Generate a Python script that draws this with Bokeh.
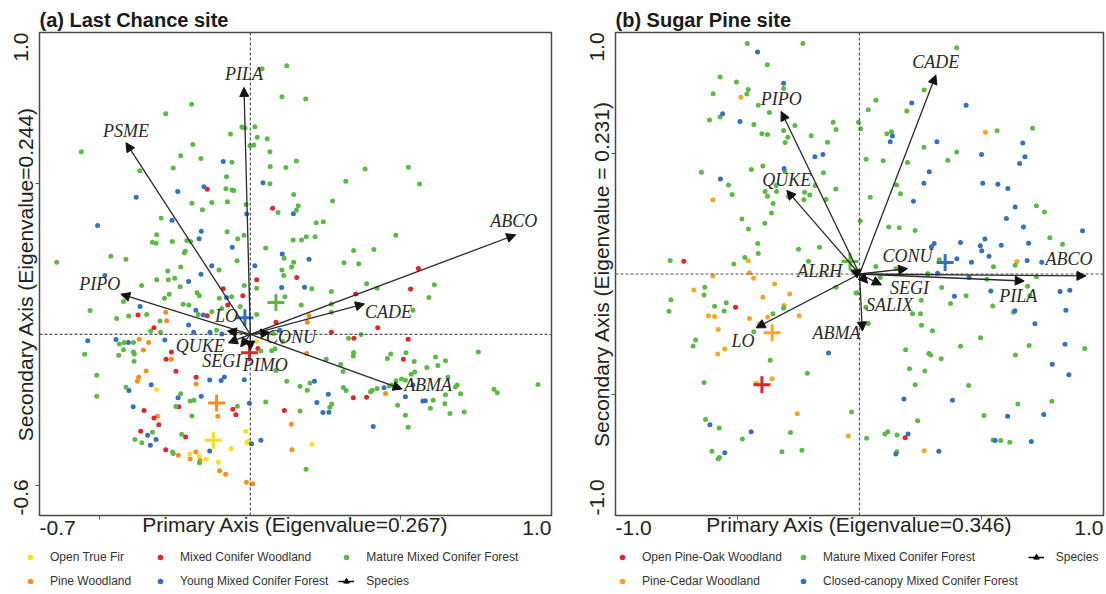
from bokeh.plotting import figure
from bokeh.models import (ColumnDataSource, Range1d, FixedTicker, Span, Arrow, NormalHead,
                          LabelSet, Legend, LegendItem)
from bokeh.layouts import row, column
from bokeh.core.properties import value
from bokeh.embed import file_html
from bokeh.resources import INLINE

# ------------------------------------------------------------------
# (a) Last Chance site : plot scores (Primary, Secondary)
# ------------------------------------------------------------------
LC_OPEN_TRUE_FIR = [(0.021, -0.024), (-0.311, -0.183), (-0.015, -0.321), (-0.006, -0.354), (-0.012, -0.359),
                    (-0.064, -0.379), (-0.201, -0.396), (-0.170, -0.404), (-0.146, -0.414), (-0.106, -0.424),
                    (0.205, -0.364)]
LC_PINE_WOODLAND = [(-0.281, 0.073), (-0.278, 0.045), (-0.369, -0.016), (-0.338, -0.027), (-0.355, -0.052),
                    (-0.263, -0.082), (-0.346, -0.121), (-0.371, -0.142), (-0.375, -0.155), (-0.180, -0.164),
                    (-0.108, -0.271), (-0.308, -0.271), (-0.239, -0.400), (-0.181, -0.390), (-0.200, -0.413),
                    (-0.167, -0.418), (-0.102, -0.452), (-0.082, -0.463), (-0.013, -0.490), (0.008, -0.495),
                    (0.195, 0.062), (0.189, 0.040), (0.187, -0.063), (0.449, -0.196), (0.136, -0.298),
                    (0.138, -0.382)]
LC_MIXED_CONIFER_WOODLAND = [(-0.143, 0.481), (0.074, 0.418), (0.558, 0.218), (-0.373, 0.064), (-0.320, 0.022),
                             (-0.143, 0.062), (-0.090, 0.151), (-0.075, 0.097), (-0.025, 0.128), (0.021, 0.181),
                             (0.085, 0.040), (0.025, -0.047), (-0.262, -0.058), (-0.280, -0.082), (-0.247, -0.122),
                             (-0.180, -0.142), (-0.058, -0.248), (-0.048, -0.266), (0.113, -0.252), (-0.353, -0.252),
                             (-0.238, -0.240), (-0.320, -0.277), (-0.304, -0.299), (-0.364, -0.321), (-0.215, -0.340),
                             (-0.281, -0.382), (0.154, 0.188), (0.532, 0.150), (0.350, 0.134), (0.423, 0.022),
                             (0.269, 0.007), (0.344, -0.013), (0.524, -0.016), (0.508, -0.082), (0.342, -0.210),
                             (0.386, -0.208)]
LC_YOUNG_MIXED = [(-0.090, 0.573), (0.042, 0.502), (-0.154, 0.489), (-0.241, 0.473), (-0.379, 0.454),
                  (-0.012, 0.399), (-0.260, 0.378), (-0.507, 0.361), (-0.163, 0.342), (-0.170, 0.317),
                  (-0.060, 0.289), (0.106, 0.266), (-0.128, 0.227), (0.015, 0.227), (0.143, 0.400),
                  (0.195, 0.249), (-0.483, 0.195), (-0.205, 0.175), (-0.164, 0.199), (-0.366, 0.092),
                  (-0.205, 0.031), (-0.188, 0.007), (-0.181, 0.080), (-0.156, 0.064), (-0.079, 0.122),
                  (0.104, 0.155), (0.098, 0.014), (-0.094, 0.001), (-0.134, 0.007), (-0.540, -0.021),
                  (-0.446, -0.017), (-0.405, -0.027), (-0.284, -0.019), (-0.135, -0.151), (-0.097, -0.153),
                  (-0.086, -0.141), (-0.020, -0.150), (-0.329, -0.167), (-0.403, -0.186), (-0.240, -0.210),
                  (-0.163, -0.205), (-0.003, -0.228), (-0.389, -0.240), (-0.341, -0.334), (-0.313, -0.348),
                  (-0.332, -0.367), (0.004, -0.362), (0.035, -0.351), (-0.135, -0.386), (0.180, 0.156),
                  (0.540, -0.168), (0.444, -0.177), (0.213, -0.155), (0.515, -0.207), (0.259, -0.198),
                  (0.221, -0.226), (0.241, -0.259), (0.261, -0.258), (0.573, -0.221), (0.581, -0.220),
                  (0.408, -0.305)]
LC_MATURE_MIXED = [(0.121, 0.890), (0.039, 0.880), (0.105, 0.787), (-0.195, 0.762), (-0.281, 0.731),
                   (-0.028, 0.687), (-0.018, 0.684), (0.015, 0.688), (-0.066, 0.664), (0.023, 0.653),
                   (0.056, 0.648), (-0.191, 0.629), (0.012, 0.627), (-0.001, 0.625), (-0.561, 0.605),
                   (-0.231, 0.592), (-0.164, 0.583), (0.065, 0.605), (-0.061, 0.570), (0.066, 0.556),
                   (0.118, 0.553), (-0.256, 0.551), (-0.367, 0.542), (-0.079, 0.522), (0.065, 0.499),
                   (-0.081, 0.482), (-0.061, 0.478), (-0.055, 0.477), (-0.194, 0.434), (-0.128, 0.437),
                   (-0.076, 0.439), (-0.014, 0.430), (0.092, 0.404), (-0.159, 0.413), (-0.296, 0.385),
                   (-0.311, 0.330), (-0.077, 0.340), (-0.042, 0.317), (-0.021, 0.328), (-0.325, 0.305),
                   (-0.313, 0.302), (-0.259, 0.308), (-0.211, 0.311), (-0.198, 0.308), (-0.216, 0.275),
                   (-0.219, 0.270), (0.051, 0.286), (-0.463, 0.259), (-0.413, 0.249), (0.112, 0.252),
                   (-0.643, 0.239), (-0.044, 0.244), (-0.231, 0.223), (-0.104, 0.213), (-0.274, 0.210),
                   (0.105, 0.213),
                   (0.184, 0.780), (0.153, 0.574), (0.381, 0.548), (0.525, 0.554), (0.317, 0.507),
                   (0.562, 0.498), (0.144, 0.463), (0.273, 0.442), (0.159, 0.426), (0.153, 0.411),
                   (0.219, 0.370), (0.242, 0.373), (0.142, 0.313), (0.170, 0.313), (0.186, 0.323),
                   (0.215, 0.323), (0.483, 0.328), (0.343, 0.278), (0.410, 0.281), (0.144, 0.239),
                   (0.311, 0.237), (0.360, 0.234), (0.137, 0.223),
                   (-0.361, 0.162), (-0.311, 0.181), (-0.272, 0.181), (-0.251, 0.186), (-0.233, 0.158),
                   (-0.269, 0.133), (-0.285, 0.120), (-0.421, 0.109), (-0.532, 0.079), (-0.444, 0.053),
                   (-0.404, 0.061), (-0.344, 0.066), (-0.300, 0.044), (-0.331, 0.011), (-0.298, 0.007),
                   (-0.177, 0.138), (-0.169, 0.128), (-0.223, 0.100), (-0.204, 0.097), (-0.173, 0.066),
                   (-0.128, 0.075), (-0.103, 0.120), (-0.062, 0.125), (-0.020, 0.162), (0.021, 0.153),
                   (0.115, 0.125), (0.111, 0.195), (-0.095, 0.086), (-0.034, 0.092), (0.021, 0.066),
                   (0.076, 0.003), (-0.061, 0.009), (-0.112, 0.014), (-0.435, -0.032), (-0.419, -0.027),
                   (-0.388, -0.027), (-0.550, -0.066), (-0.421, -0.051), (-0.437, -0.069), (-0.388, -0.058),
                   (-0.385, -0.065), (-0.386, -0.089), (0.035, -0.055), (0.071, -0.054), (0.082, -0.048),
                   (0.107, -0.024), (-0.510, -0.135), (0.085, -0.120), (0.121, -0.155), (-0.413, -0.175),
                   (-0.510, -0.205), (-0.231, -0.197), (-0.200, -0.221), (-0.187, -0.218), (-0.043, -0.238),
                   (0.051, -0.224), (-0.247, -0.239), (-0.194, -0.270), (-0.325, -0.324), (-0.383, -0.348),
                   (-0.360, -0.359), (-0.228, -0.331), (-0.258, -0.390), (-0.256, -0.395), (-0.169, -0.425),
                   (0.204, 0.151), (0.269, 0.142), (0.386, 0.168), (0.421, 0.153), (0.611, 0.164),
                   (0.593, 0.122), (0.269, 0.101), (0.269, 0.073), (0.169, 0.097), (0.540, 0.080),
                   (0.368, 0.000), (0.326, -0.013), (0.757, -0.058), (0.343, -0.060), (0.342, -0.072),
                   (0.466, -0.065), (0.455, -0.080), (0.517, -0.061), (0.252, -0.082), (0.300, -0.100),
                   (0.308, -0.123), (0.544, -0.090), (0.615, -0.075), (0.648, -0.087), (0.623, -0.103),
                   (0.586, -0.110), (0.546, -0.125), (0.534, -0.132), (0.656, -0.142), (0.484, -0.154),
                   (0.502, -0.148), (0.515, -0.152), (0.469, -0.168), (0.461, -0.171), (0.421, -0.179),
                   (0.405, -0.185), (0.399, -0.190), (0.687, -0.168), (0.681, -0.174), (0.809, -0.182),
                   (0.820, -0.193), (0.955, -0.166), (0.198, -0.161), (0.165, -0.172), (0.189, -0.185),
                   (0.309, -0.176), (0.318, -0.186), (0.648, -0.200), (0.698, -0.197), (0.270, -0.231),
                   (0.264, -0.241), (0.165, -0.254), (0.489, -0.235), (0.607, -0.218), (0.646, -0.230),
                   (0.598, -0.245), (0.663, -0.262), (0.710, -0.257), (0.515, -0.268), (0.524, -0.308),
                   (0.185, -0.447)]

LC_GROUPS = ["Open True Fir", "Pine Woodland", "Mixed Conifer Woodland",
             "Young Mixed Conifer Forest", "Mature Mixed Conifer Forest"]
LC_POINTS = [LC_OPEN_TRUE_FIR, LC_PINE_WOODLAND, LC_MIXED_CONIFER_WOODLAND, LC_YOUNG_MIXED, LC_MATURE_MIXED]
LC_CENTROID_X = [-0.123, -0.112, -0.003, -0.018, 0.085]
LC_CENTROID_Y = [-0.351, -0.227, -0.061, 0.055, 0.106]

LC_SPECIES = ["ABCO", "PILA", "PSME", "PIPO", "CADE", "ABMA", "LO", "QUKE", "SEGI", "PIMO", "CONU"]
LC_SPECIES_X = [0.881, -0.021, -0.413, -0.430, 0.379, 0.504, -0.076, -0.073, -0.032, 0.000, 0.065]
LC_SPECIES_Y = [0.330, 0.818, 0.635, 0.133, 0.101, -0.181, 0.011, -0.028, -0.041, -0.052, 0.006]

# ------------------------------------------------------------------
# (b) Sugar Pine site
# ------------------------------------------------------------------
SP_OPEN_PINE_OAK = [(-0.720, 0.053), (-0.508, -0.138), (0.187, -0.678)]
SP_PINE_CEDAR = [(-0.486, 0.732), (-0.601, 0.307), (-0.456, 0.055), (0.516, 0.587), (0.646, 0.052),
                 (-0.601, -0.008), (-0.451, 0.005), (-0.434, -0.018), (-0.679, -0.066), (-0.348, -0.041),
                 (-0.396, -0.096), (-0.286, -0.083), (-0.309, -0.130), (-0.619, -0.173), (-0.594, -0.176),
                 (-0.376, -0.179), (-0.451, -0.184), (-0.247, -0.173), (-0.410, -0.206), (-0.579, -0.230),
                 (-0.552, -0.311), (-0.581, -0.331), (-0.358, -0.434), (-0.423, -0.452), (-0.255, -0.579),
                 (-0.046, -0.671), (0.265, -0.732)]
SP_MATURE_MIXED = [(-0.460, 0.954), (-0.232, 0.954), (-0.378, 0.866), (-0.571, 0.816), (-0.504, 0.795),
                   (-0.311, 0.768), (-0.600, 0.746), (-0.456, 0.764), (-0.462, 0.745), (-0.415, 0.699),
                   (-0.571, 0.650), (-0.615, 0.638), (-0.369, 0.669), (-0.433, 0.619), (-0.265, 0.615),
                   (-0.311, 0.594), (-0.400, 0.581), (-0.377, 0.578), (-0.294, 0.566), (-0.305, 0.544),
                   (-0.198, 0.572), (-0.108, 0.628), (-0.096, 0.598), (-0.131, 0.546), (-0.396, 0.447),
                   (-0.443, 0.433), (-0.306, 0.423), (-0.648, 0.421), (-0.148, 0.419), (-0.537, 0.369),
                   (-0.522, 0.329), (-0.342, 0.366), (-0.387, 0.342), (-0.340, 0.342), (-0.377, 0.322),
                   (-0.225, 0.339), (-0.204, 0.327), (-0.228, 0.307), (-0.182, 0.366), (-0.097, 0.352),
                   (-0.137, 0.309), (-0.354, 0.292), (-0.291, 0.321), (-0.361, 0.253), (-0.482, 0.228),
                   (-0.388, 0.210), (-0.455, 0.186), (-0.417, 0.126), (-0.415, 0.085), (-0.470, 0.068),
                   (-0.164, 0.111), (-0.250, 0.102), (-0.776, 0.056), (-0.515, 0.041), (-0.209, 0.053),
                   (0.398, 0.937), (0.265, 0.762), (0.067, 0.719), (0.036, 0.680), (0.194, 0.675),
                   (-0.004, 0.628), (0.005, 0.601), (0.564, 0.593), (0.709, 0.604), (0.131, 0.589),
                   (0.112, 0.581), (0.264, 0.525), (0.398, 0.505), (0.027, 0.475), (0.097, 0.469),
                   (0.197, 0.462), (0.362, 0.471), (0.152, 0.369), (0.168, 0.332), (0.044, 0.318),
                   (0.725, 0.283), (0.758, 0.257), (0.003, 0.219), (0.120, 0.195), (0.163, 0.191),
                   (0.228, 0.180), (0.780, 0.150), (0.832, 0.123), (0.638, 0.036), (0.549, 0.030),
                   (0.327, 0.059), (0.067, 0.031), (0.149, 0.022), (0.280, 0.001),
                   (-0.634, -0.055), (-0.637, -0.087), (-0.773, -0.107), (-0.781, -0.154), (-0.594, -0.134),
                   (-0.546, -0.119), (-0.555, -0.153), (-0.311, -0.141), (-0.355, -0.165), (-0.433, -0.239),
                   (-0.672, -0.273), (-0.682, -0.298), (-0.366, -0.357), (-0.096, -0.055), (-0.014, -0.079),
                   (-0.214, -0.411), (-0.637, -0.449), (-0.033, -0.571), (-0.631, -0.602), (-0.575, -0.638),
                   (-0.480, -0.683), (-0.283, -0.656), (-0.605, -0.734), (-0.574, -0.760), (-0.579, -0.765),
                   (-0.318, -0.736), (-0.236, -0.730),
                   (0.085, -0.015), (0.279, 0.000), (0.522, -0.022), (0.725, -0.011), (0.689, -0.051),
                   (0.337, -0.056), (-0.010, -0.079), (0.437, -0.090), (0.698, -0.090), (0.253, -0.109),
                   (0.373, -0.122), (0.546, -0.133), (0.026, -0.138), (0.631, -0.158), (0.217, -0.165),
                   (0.250, -0.165), (0.036, -0.205), (0.254, -0.212), (0.299, -0.235), (0.496, -0.264),
                   (0.414, -0.299), (0.695, -0.296), (0.923, -0.309), (0.189, -0.314), (0.284, -0.329),
                   (0.292, -0.335), (0.639, -0.335), (0.335, -0.351), (0.205, -0.392), (0.268, -0.402),
                   (0.228, -0.459), (0.447, -0.462), (0.649, -0.538), (0.788, -0.527), (0.510, -0.586),
                   (0.238, -0.608), (0.029, -0.680), (0.104, -0.663), (0.116, -0.653), (0.154, -0.667),
                   (0.548, -0.687), (0.579, -0.689), (0.616, -0.697), (0.153, -0.736)]
SP_CLOSED_CANOPY = [(-0.418, 0.919), (-0.311, 0.790), (-0.561, 0.664), (-0.490, 0.631), (-0.183, 0.485),
                    (-0.150, 0.495), (-0.309, 0.437), (-0.570, 0.393),
                    (0.214, 0.708), (0.437, 0.699), (0.135, 0.571), (0.126, 0.548), (0.317, 0.548),
                    (0.669, 0.542), (0.500, 0.495), (0.678, 0.486), (0.656, 0.458), (0.286, 0.423),
                    (0.264, 0.376), (0.505, 0.376), (0.567, 0.372), (0.608, 0.354), (0.221, 0.301),
                    (0.638, 0.277), (0.602, 0.230), (0.672, 0.195), (0.914, 0.179), (0.514, 0.145),
                    (0.414, 0.130), (0.306, 0.126), (0.295, 0.113), (0.495, 0.117), (0.501, 0.096),
                    (0.581, 0.119), (0.693, 0.127), (0.531, 0.074), (0.399, 0.063), (0.459, 0.049),
                    (0.747, 0.049), (0.687, 0.056),
                    (-0.127, -0.327), (-0.613, -0.624), (-0.444, -0.653), (-0.552, -0.740),
                    (0.320, 0.003), (0.449, -0.014), (0.538, -0.070), (0.389, -0.092), (0.822, -0.072),
                    (0.862, -0.067), (0.637, -0.152), (0.846, -0.150), (0.719, -0.206), (0.842, -0.291),
                    (0.790, -0.374), (0.858, -0.417), (0.182, -0.518), (0.381, -0.523), (0.755, -0.582),
                    (0.607, -0.589), (0.199, -0.663), (0.556, -0.689), (0.704, -0.694), (0.325, -0.734),
                    (0.149, -0.745)]

SP_GROUPS = ["Open Pine-Oak Woodland", "Pine-Cedar Woodland", "Mature Mixed Conifer Forest",
             "Closed-canopy Mixed Conifer Forest"]
SP_POINTS = [SP_OPEN_PINE_OAK, SP_PINE_CEDAR, SP_MATURE_MIXED, SP_CLOSED_CANOPY]
SP_CENTROID_X = [-0.400, -0.358, -0.039, 0.351]
SP_CENTROID_Y = [-0.459, -0.243, 0.052, 0.048]

SP_SPECIES = ["CADE", "PIPO", "QUKE", "ABCO", "PILA", "CONU", "SEGI", "SALIX", "ABMA", "LO", "ALRH"]
SP_SPECIES_X = [0.313, -0.321, -0.298, 0.928, 0.675, 0.197, 0.090, 0.033, 0.012, -0.424, -0.036]
SP_SPECIES_Y = [0.824, 0.673, 0.346, -0.008, -0.029, 0.022, -0.045, -0.038, -0.236, -0.223, 0.016]

# ------------------------------------------------------------------
# styles  (label offsets in screen px: +x right, +y up)
# ------------------------------------------------------------------
SANS = "Liberation Sans"
SERIF = "Liberation Serif"
LC_COLORS = ["#F3E11C", "#F39020", "#E5232A", "#3470C0", "#5BB946"]
SP_COLORS = ["#E5232A", "#F6A623", "#5BB946", "#3470C0"]
LC_LABEL_DX = [-2, 0, 0, -21, 24, 26, -1, -28, -19, 15, 21]
LC_LABEL_DY = [14, 13, 12, 10, -8, 4, 15, -3, -14, -15, -4]
SP_LABEL_DX = [0, 0, 0, -17, -6, 0, 28, 22, -26, -13, -31]
SP_LABEL_DY = [13, 12, 10, 17, -15, 13, -3, -22, -2, -13, -1]

CHAR_W = {"-": 0.333, ".": 0.278}
FS = 21
PLOT_H = 543
LEGEND_H = 50


def text_w(s, size):
    return sum(CHAR_W.get(c, 0.556) for c in s) * size


def panel(title, xr, yr, fw, fh, left_b, right_b, top_b, xlab, ylab, xt, yt,
          pts, colors, cx, cy, sp, sx, sy, ldx, ldy):
    p = figure(width=left_b + fw + right_b, height=PLOT_H,
               x_range=Range1d(*xr), y_range=Range1d(*yr),
               output_backend="svg", toolbar_location=None,
               min_border_left=left_b, min_border_right=right_b, min_border_top=top_b,
               min_border_bottom=PLOT_H - top_b - fh,
               background_fill_color="white", border_fill_color="white")
    p.grid.visible = False
    p.outline_line_color = "#4a4a4a"
    p.outline_line_width = 1.5
    p.title.text = title
    p.title.text_font = SANS
    p.title.text_font_size = "20px"
    p.title.text_font_style = "bold"
    p.title.text_color = "#1a1a1a"
    p.title.align = "left"
    p.title.standoff = 3
    p.title.offset = 0

    ppx = fw / (xr[1] - xr[0])
    ppy = fh / (yr[1] - yr[0])
    xlo = round(xr[0] + text_w(xt[0], FS) / 2 / ppx, 4)
    xhi = round(xr[1] - text_w(xt[1], FS) / 2 / ppx, 4)
    ylo = round(yr[0] + text_w(yt[0], FS) / 2 / ppy, 4)
    yhi = round(yr[1] - text_w(yt[1], FS) / 2 / ppy, 4)

    for ax, lo, hi, labs in ((p.xaxis[0], xlo, xhi, xt), (p.yaxis[0], ylo, yhi, yt)):
        ax.ticker = FixedTicker(ticks=[lo, hi], minor_ticks=[-0.5, 0.5])
        ax.major_label_overrides = {lo: labs[0], hi: labs[1]}
        ax.major_tick_line_color = None
        ax.major_tick_out = 0
        ax.major_tick_in = 0
        ax.minor_tick_line_color = "#555555"
        ax.minor_tick_out = 4
        ax.minor_tick_in = 0
        ax.axis_line_color = None
        ax.major_label_text_font = SANS
        ax.major_label_text_font_size = f"{FS}px"
        ax.major_label_text_color = "#222222"
        ax.axis_label_text_font = SANS
        ax.axis_label_text_font_size = f"{FS}px"
        ax.axis_label_text_font_style = "normal"
        ax.axis_label_text_color = "#222222"
    p.xaxis.axis_label = xlab
    p.yaxis.axis_label = ylab
    p.xaxis.major_label_standoff = 1
    p.xaxis.axis_label_standoff = -25
    p.yaxis.major_label_standoff = 7
    p.yaxis.major_label_orientation = "vertical"
    p.yaxis.axis_label_standoff = -25

    p.add_layout(Span(location=0, dimension="height", line_color="#555555", line_width=1.2, line_dash="3 2"))
    p.add_layout(Span(location=0, dimension="width", line_color="#555555", line_width=1.2, line_dash="3 2"))

    for data, col in zip(pts, colors):
        src = ColumnDataSource(dict(x=[d[0] for d in data], y=[d[1] for d in data]))
        p.scatter("x", "y", source=src, size=5, fill_color=col, line_color=None)

    csrc = ColumnDataSource(dict(x=cx, y=cy, c=colors))
    p.scatter("x", "y", source=csrc, marker="cross", size=17, line_color="c", line_width=3)

    asrc = ColumnDataSource(dict(x0=[0] * len(sx), y0=[0] * len(sy), x1=sx, y1=sy, name=sp,
                                 dx=ldx, dy=ldy))
    p.add_layout(Arrow(source=asrc, x_start="x0", y_start="y0", x_end="x1", y_end="y1",
                       line_color="#2a2a2a", line_width=1.3,
                       end=NormalHead(size=9, fill_color="#111111", line_color="#111111", line_width=1)))
    p.add_layout(LabelSet(source=asrc, x="x1", y="y1", text="name", x_offset="dx", y_offset="dy",
                          text_font=value(SERIF), text_font_style="italic", text_font_size="18px",
                          text_color="#2a2a2a", text_align="center", text_baseline="middle"))
    return p


def legend_fig(width, groups, pts, colors, sx, sy, x0, label_w):
    # legend-only strip: the group renderers reuse the real data, but the ranges
    # of this strip lie outside the data, so only the legend itself is visible
    q = figure(width=width, height=LEGEND_H, x_range=Range1d(5, 6), y_range=Range1d(5, 6),
               output_backend="svg", toolbar_location=None, min_border=0,
               x_axis_location=None, y_axis_location=None,
               background_fill_color="white", border_fill_color="white")
    q.grid.visible = False
    q.outline_line_color = None
    items = []
    for name, data, col in zip(groups, pts, colors):
        r = q.scatter(x=[d[0] for d in data], y=[d[1] for d in data], size=5,
                      fill_color=col, line_color=None)
        items.append(LegendItem(label=name, renderers=[r]))
    lr = q.line(x=sx, y=sy, line_color="black", line_width=1.5)
    hr = q.scatter(x=sx, y=sy, marker="triangle", angle=-1.5708, size=8,
                   fill_color="black", line_color="black")
    items.append(LegendItem(label="Species", renderers=[lr, hr]))
    leg = Legend(items=items, nrows=2, location=(x0, 5), padding=0, margin=0, spacing=10,
                 glyph_width=16, glyph_height=14, label_height=14, label_standoff=12,
                 label_width=label_w,
                 label_text_font=SANS, label_text_font_size="12px", label_text_color="#333333",
                 border_line_color=None, background_fill_alpha=0)
    q.add_layout(leg, "center")
    return q


p1 = panel("(a) Last Chance site", (-0.7, 1.0), (-0.6, 1.0), 512, 483, 39, 33, 32,
           "Primary Axis (Eigenvalue=0.267)", "Secondary Axis (Eigenvalue=0.244)",
           ("-0.7", "1.0"), ("-0.6", "1.0"),
           LC_POINTS, LC_COLORS, LC_CENTROID_X, LC_CENTROID_Y,
           LC_SPECIES, LC_SPECIES_X, LC_SPECIES_Y, LC_LABEL_DX, LC_LABEL_DY)

p2 = panel("(b) Sugar Pine site", (-1.0, 1.0), (-1.0, 1.0), 488, 486, 31, 3, 30,
           "Primary Axis (Eigenvalue=0.346)", "Secondary Axis (Eigenvalue = 0.231)",
           ("-1.0", "1.0"), ("-1.0", "1.0"),
           SP_POINTS, SP_COLORS, SP_CENTROID_X, SP_CENTROID_Y,
           SP_SPECIES, SP_SPECIES_X, SP_SPECIES_Y, SP_LABEL_DX, SP_LABEL_DY)

l1 = legend_fig(584, LC_GROUPS, LC_POINTS, LC_COLORS, LC_SPECIES_X, LC_SPECIES_Y, 22, 92)
l2 = legend_fig(522, SP_GROUPS, SP_POINTS, SP_COLORS, SP_SPECIES_X, SP_SPECIES_Y, 30, 143)

layout = column(row(p1, p2), row(l1, l2))
open("out.html", "w").write(file_html(layout, INLINE))
